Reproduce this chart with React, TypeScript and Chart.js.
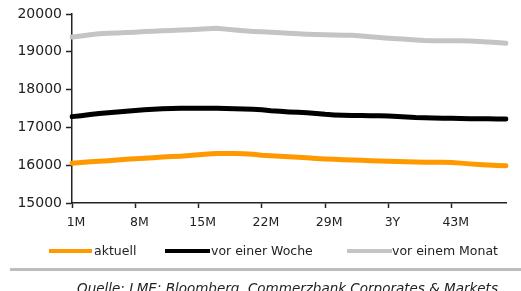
import React, { useEffect, useRef } from "react";
import { Chart, registerables } from "chart.js";
Chart.register(...registerables);

const months: string[] = [
  "1M", "2M", "3M", "4M", "5M", "6M", "7M", "8M", "9M", "10M", "11M", "1Y",
  "13M", "14M", "15M", "16M", "17M", "18M", "19M", "20M", "21M", "22M", "23M", "2Y",
  "25M", "26M", "27M", "28M", "29M", "30M", "31M", "32M", "33M", "34M", "35M", "3Y",
  "37M", "38M", "39M", "40M", "41M", "42M", "43M", "44M", "45M", "46M", "47M", "4Y", "49M",
];

const aktuell: number[] = [
  16050, 16070, 16090, 16105, 16120, 16140, 16160, 16170, 16185, 16200,
  16215, 16230, 16240, 16255, 16275, 16295, 16310, 16310, 16308, 16305,
  16290, 16265, 16250, 16240, 16225, 16210, 16195, 16180, 16165, 16155,
  16145, 16135, 16128, 16120, 16110, 16102, 16095, 16090, 16085, 16080,
  16077, 16075, 16070, 16055, 16035, 16020, 16005, 15995, 15988,
];

const vorEinerWoche: number[] = [
  17285, 17310, 17340, 17365, 17385, 17405, 17430, 17450, 17465, 17480,
  17495, 17500, 17505, 17505, 17505, 17505, 17505, 17500, 17495, 17490,
  17480, 17465, 17440, 17425, 17410, 17400, 17390, 17370, 17345, 17330,
  17320, 17315, 17312, 17308, 17305, 17302, 17290, 17275, 17262, 17255,
  17250, 17245, 17240, 17235, 17232, 17230, 17228, 17225, 17222,
];

const vorEinemMonat: number[] = [
  19390, 19420, 19450, 19475, 19490, 19500, 19510, 19520, 19535, 19545,
  19555, 19565, 19575, 19585, 19595, 19610, 19620, 19600, 19575, 19555,
  19540, 19530, 19515, 19505, 19490, 19475, 19465, 19455, 19450, 19445,
  19440, 19435, 19420, 19400, 19380, 19360, 19345, 19330, 19315, 19300,
  19295, 19290, 19290, 19290, 19285, 19275, 19260, 19245, 19225,
];

const seriesNames: string[] = ["aktuell", "vor einer Woche", "vor einem Monat"];
const seriesColors: string[] = ["#FF9900", "#000000", "#C4C4C4"];
const yMin = 15000;
const yMax = 20000;
const yStep = 1000;
const labelEvery = 7;
const sourceText = "Quelle: LME; Bloomberg, Commerzbank Corporates & Markets";

const FONT = "'DejaVu Sans', Arial, sans-serif";

export default function App() {
  const ref = useRef<HTMLCanvasElement | null>(null);

  useEffect(() => {
    if (!ref.current) return;
    const data = [aktuell, vorEinerWoche, vorEinemMonat];
    const chart = new Chart(ref.current, {
      type: "line",
      data: {
        labels: months,
        datasets: data.map((d, i) => ({
          label: seriesNames[i],
          data: d,
          borderColor: seriesColors[i],
          backgroundColor: seriesColors[i],
          borderWidth: 5,
          pointRadius: 0,
          tension: 0,
          borderCapStyle: "round" as const,
          borderJoinStyle: "round" as const,
        })).reverse(),
      },
      options: {
        responsive: false,
        animation: false,
        devicePixelRatio: 1,
        layout: { padding: { top: 14, right: 15, bottom: 0, left: 0 } },
        plugins: { legend: { display: false }, tooltip: { enabled: false } },
        scales: {
          x: {
            type: "category",
            offset: false,
            grid: {
              display: true,
              drawOnChartArea: false,
              drawTicks: true,
              tickLength: 5,
              tickColor: (ctx: any) => (ctx.index % labelEvery === 0 ? "#222" : "rgba(0,0,0,0)"),
              tickWidth: 1.5,
            },
            border: { display: true, color: "#222", width: 1.5 },
            ticks: {
              autoSkip: false,
              maxRotation: 0,
              minRotation: 0,
              padding: 7,
              labelOffset: 4,
              color: "#222",
              font: { family: FONT, size: 12.5 },
              callback: (_v: any, i: number) => (i % labelEvery === 0 ? months[i] : ""),
            },
            afterFit: (scale: any) => {
              scale.height = 88;
            },
          },
          y: {
            min: yMin,
            max: yMax,
            grid: {
              display: true,
              drawOnChartArea: false,
              drawTicks: true,
              tickLength: 6,
              tickColor: "#222",
              tickWidth: 1.5,
            },
            border: { display: true, color: "#222", width: 1.5 },
            ticks: {
              stepSize: yStep,
              padding: 4,
              color: "#222",
              font: { family: FONT, size: 14 },
              callback: (v: any) => String(v),
            },
            afterFit: (scale: any) => {
              scale.width = 72;
            },
          },
        },
      },
    });
    return () => chart.destroy();
  }, []);

  const legendItems = [
    { lineLeft: 49, lineWidth: 43, textLeft: 94 },
    { lineLeft: 165, lineWidth: 45, textLeft: 211 },
    { lineLeft: 347, lineWidth: 45, textLeft: 392 },
  ];

  return (
    <div
      style={{
        position: "fixed",
        left: 0,
        top: 0,
        width: 521,
        height: 291,
        background: "#fff",
        overflow: "hidden",
        fontFamily: FONT,
      }}
    >
      <canvas ref={ref} width={521} height={291} style={{ position: "absolute", left: 0, top: 0 }} />
      {legendItems.map((it, i) => (
        <React.Fragment key={i}>
          <div
            style={{
              position: "absolute",
              left: it.lineLeft,
              top: 249,
              width: it.lineWidth,
              height: 4,
              background: seriesColors[i],
            }}
          />
          <div
            style={{
              position: "absolute",
              left: it.textLeft,
              top: 243,
              fontSize: 12.5,
              lineHeight: "16px",
              color: "#222",
              whiteSpace: "nowrap",
            }}
          >
            {seriesNames[i]}
          </div>
        </React.Fragment>
      ))}
      <div
        style={{
          position: "absolute",
          left: 10,
          right: 0,
          top: 268,
          height: 3,
          background: "#BDBDBD",
        }}
      />
      <div
        style={{
          position: "absolute",
          left: 77,
          top: 280,
          fontSize: 13.5,
          fontStyle: "italic",
          lineHeight: "16px",
          color: "#222",
          whiteSpace: "nowrap",
        }}
      >
        {sourceText}
      </div>
    </div>
  );
}
